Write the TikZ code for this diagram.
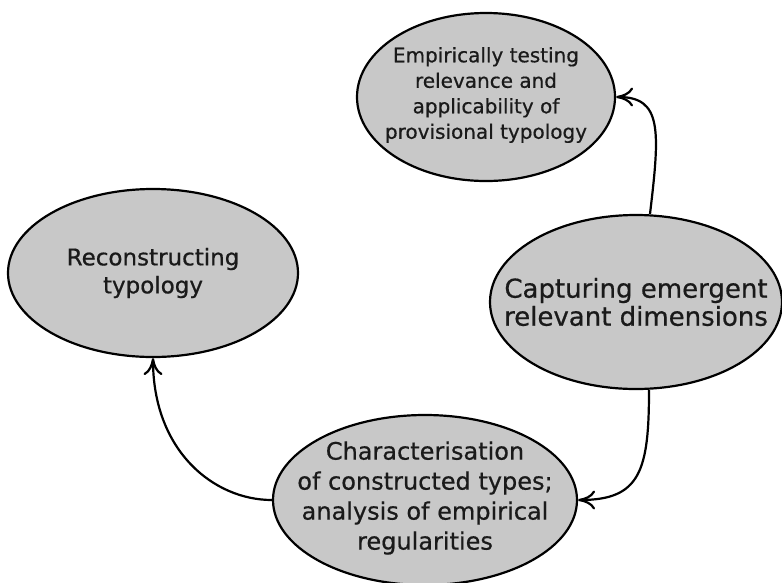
\documentclass[tikz,border=0pt]{standalone}
\usepackage{fontspec}
\setmainfont{DejaVu Sans}[FakeBold=0.6]
\usetikzlibrary{shapes.geometric,arrows.meta}
\definecolor{stagefill}{HTML}{C8C8C8}
\definecolor{stageink}{HTML}{1A1A1A}
\tikzset{
  stage/.style={ellipse, draw=black, line width=2.2pt, fill=stagefill,
    inner sep=0pt},
  stagetext/.style={text=stageink, align=center, inner sep=0pt},
  flow/.style={line width=2.2pt, draw=black,
    -{Computer Modern Rightarrow[length=17pt,width=19pt,line width=2.2pt]}},
}
\begin{document}
\begin{tikzpicture}[x=1pt,y=-1pt]
  \useasboundingbox[fill=white] (0,0) rectangle (782,582);

  % the four stages of the cycle
  \node[stage, minimum width=258pt, minimum height=168pt] (test) at (486,97) {};
  \node[stage, minimum width=292pt, minimum height=174pt] (capt) at (636,302) {};
  \node[stage, minimum width=290pt, minimum height=168pt] (recon) at (153,273) {};
  \node[stage, minimum width=304pt, minimum height=170pt] (charac) at (425,500) {};

  % their texts
  \node[stagetext, font=\fontsize{20}{25.5}\selectfont] (testtxt) at ([yshift=2pt]test.center)
    {Empirically testing\\relevance and\\applicability of\\provisional typology};
  \node[stagetext, font=\fontsize{26}{28}\selectfont] (capttxt) at (capt.center)
    {Capturing emergent\\relevant dimensions};
  \node[stagetext, font=\fontsize{23}{28}\selectfont] (recontxt) at (recon.center)
    {Reconstructing\\typology};
  \node[stagetext, font=\fontsize{24}{30}\selectfont] (charactxt) at ([yshift=2pt]charac.center)
    {Characterisation\\of constructed types;\\analysis of empirical\\regularities};

  % transitions
  \draw[flow] ([xshift=14pt]capt.north) .. controls +(10,-84) and +(46,0) .. (test.east);
  \draw[flow] ([xshift=13pt]capt.south) .. controls +(0,81) and +(62,0) .. (charac.east);
  \draw[flow] (charac.west) .. controls +(-58,0) and +(0,93) .. (recon.south);
\end{tikzpicture}
\end{document}
